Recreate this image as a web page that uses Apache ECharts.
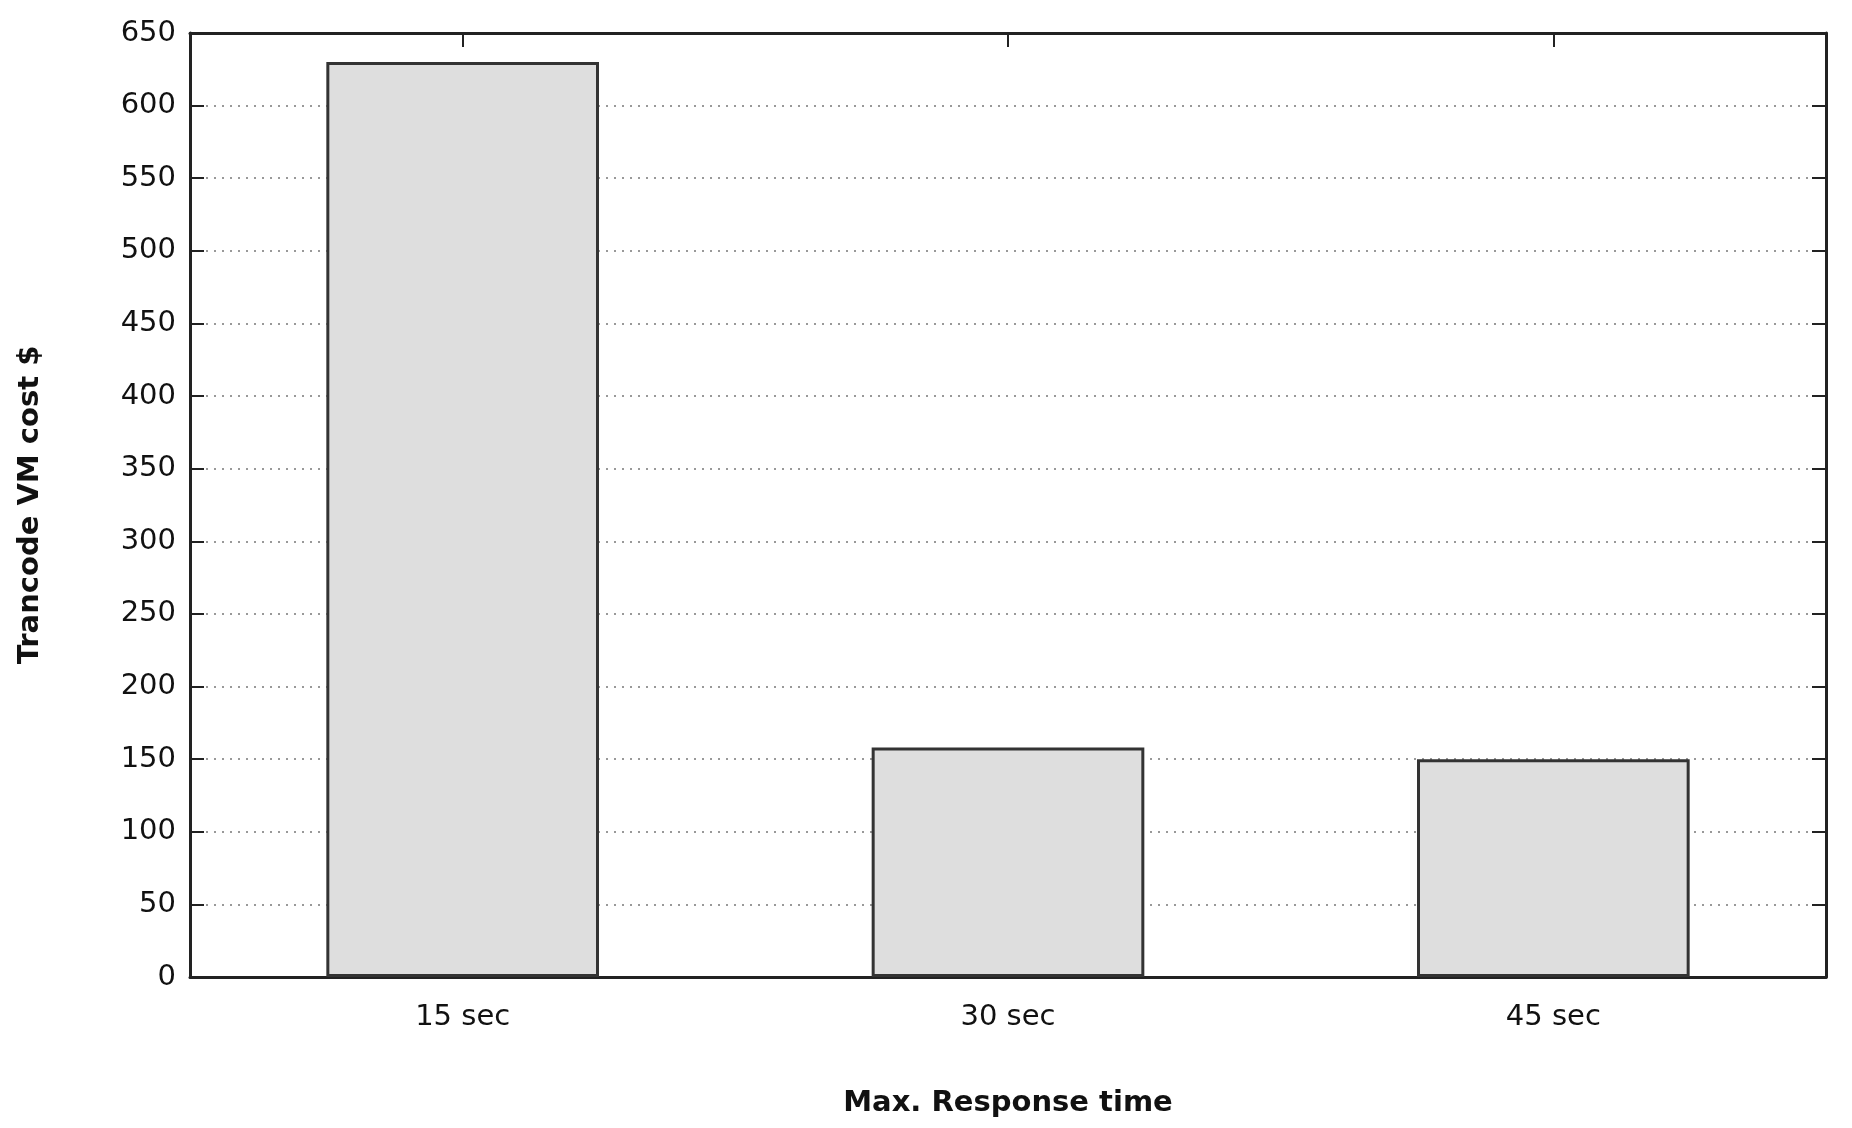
<!DOCTYPE html>
<html lang="en">
<head>
  <meta charset="UTF-8">
  <title>Trancode VM cost</title>
  <script src="https://cdn.jsdelivr.net/npm/echarts@6/dist/echarts.min.js"></script>
  <style>
    html, body { margin: 0; padding: 0; background: #fff; }
    #chart { width: 1852px; height: 1128px; }
  </style>
</head>
<body>
  <div id="chart"></div>
  <script>
    var categories = ['15 sec', '30 sec', '45 sec'];
    var costValues = [630, 158, 150];

    var font = 'DejaVu Sans';
    var chart = echarts.init(document.getElementById('chart'));
    var option = {
      animation: false,
      grid: { left: 190, right: 26, top: 33, bottom: 151 },
      xAxis: [{
        type: 'category',
        position: 'bottom',
        data: categories,
        name: 'Max. Response time',
        nameLocation: 'middle',
        nameGap: 112,
        nameTextStyle: { fontFamily: font, fontSize: 29, fontWeight: 'bold', color: '#111' },
        axisLine: { lineStyle: { color: '#222', width: 3 } },
        axisTick: { show: false },
        axisLabel: { fontFamily: font, fontSize: 29, color: '#111', margin: 26 }
      }, {
        type: 'category',
        position: 'top',
        data: categories,
        axisLine: { show: true, onZero: false, lineStyle: { color: '#222', width: 3 } },
        axisTick: { show: true, inside: true, alignWithLabel: true, length: 14, lineStyle: { width: 2 } },
        axisLabel: { show: false }
      }],
      yAxis: [{
        type: 'value',
        min: 0, max: 650, interval: 50,
        name: 'Trancode VM cost $',
        nameLocation: 'middle',
        nameGap: 145,
        nameTextStyle: { fontFamily: font, fontSize: 29, fontWeight: 'bold', color: '#111' },
        axisLine: { show: true, lineStyle: { color: '#222', width: 3 } },
        axisTick: { show: true, inside: true, length: 14, lineStyle: { width: 2 } },
        axisLabel: { fontFamily: font, fontSize: 29, color: '#111', margin: 14 },
        splitLine: { show: true, lineStyle: { color: '#999', type: [2, 6], width: 2 } }
      }, {
        type: 'value',
        min: 0, max: 650, interval: 50,
        position: 'right',
        axisLine: { show: true, lineStyle: { color: '#222', width: 3 } },
        axisTick: { show: true, inside: true, length: 14, lineStyle: { width: 2 } },
        axisLabel: { show: false },
        splitLine: { show: false }
      }],
      series: [{
        type: 'bar',
        data: costValues,
        barWidth: '50%',
        itemStyle: { color: '#dedede', borderColor: '#333', borderWidth: 3 }
      }]
    };
    chart.setOption(option);
  </script>
</body>
</html>
